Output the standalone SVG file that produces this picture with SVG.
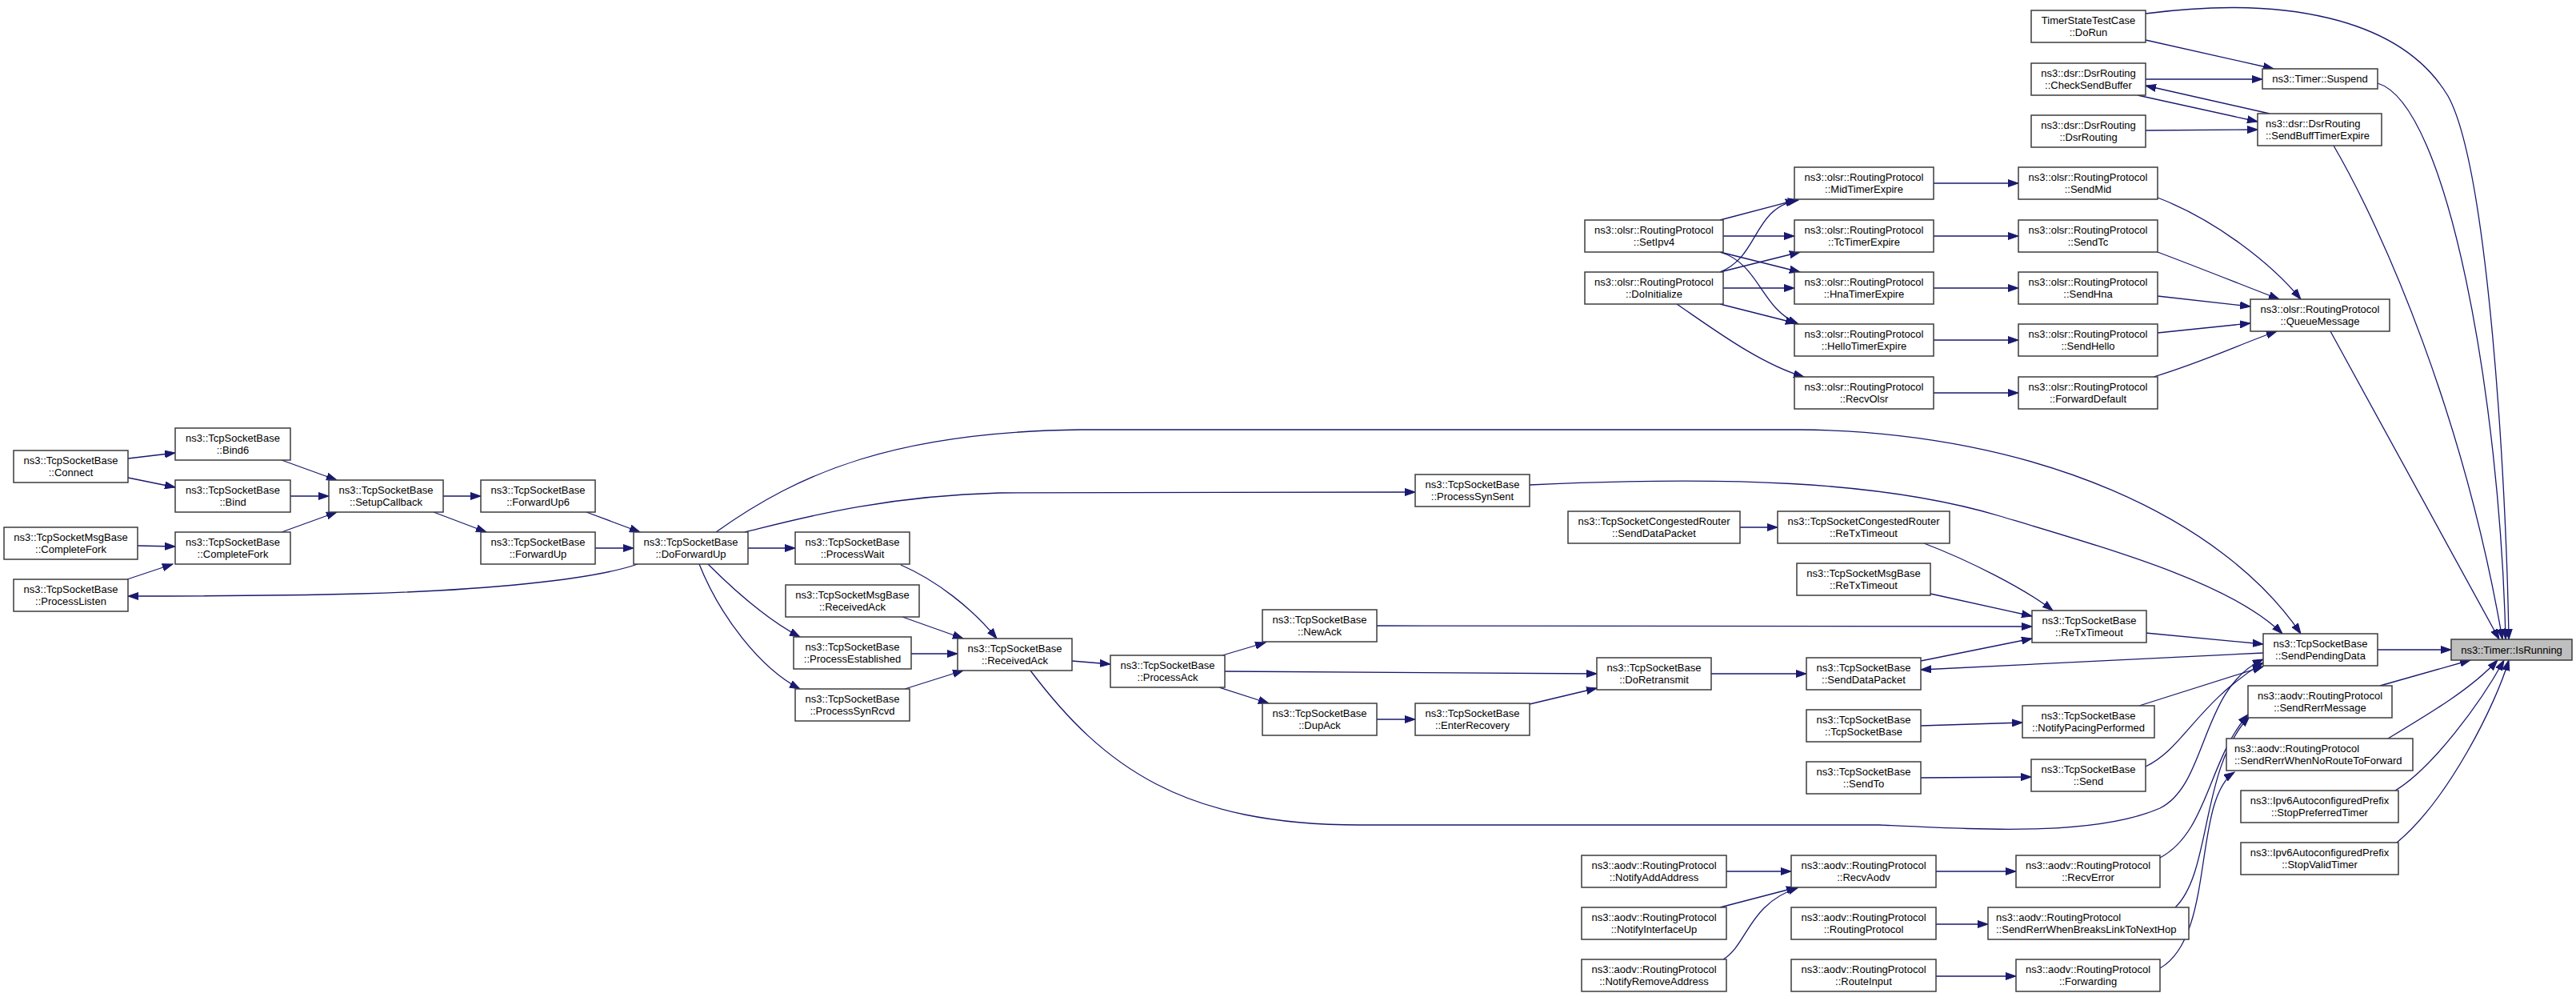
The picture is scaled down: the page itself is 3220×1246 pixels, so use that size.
<svg xmlns="http://www.w3.org/2000/svg" width="3220" height="1246" viewBox="0 0 3220 1246">
<style>
.n rect{fill:#fff;stroke:#3c3c3c;stroke-width:1.5}
.r rect{fill:#bfbfbf}
text{font-family:"Liberation Sans",Arial,sans-serif;font-size:13px;fill:#000;text-anchor:middle}
text.l{text-anchor:start}
#edges path{fill:none;stroke:#191970;stroke-width:1.3;marker-end:url(#ah)}
</style>
<defs>
<marker id="ah" markerWidth="14" markerHeight="10" refX="13" refY="5" orient="auto" markerUnits="userSpaceOnUse"><path d="M0,0.5 L13,5 L0,9.5 z" fill="#191970" stroke="#191970" stroke-width="1"/></marker>
</defs>
<rect width="3220" height="1246" fill="#fff"/>
<g id="edges">
<path d="M160,573 L219,566"/>
<path d="M160,597 L219,609"/>
<path d="M352,575 L421,600"/>
<path d="M363,620 L411,620"/>
<path d="M352,665 L421,640"/>
<path d="M172,682 L219,683"/>
<path d="M159,724 L216,705"/>
<path d="M797,705 C740,725 600,738 450,742 C330,745 230,745 160,745"/>
<path d="M554,620 L601,620"/>
<path d="M542,640 L608,665"/>
<path d="M733,640 L800,665"/>
<path d="M744,685 L792,685"/>
<path d="M935,685 L994,685"/>
<path d="M885,705 C920,740 960,775 1000,796"/>
<path d="M874,705 C900,770 950,835 1000,861"/>
<path d="M895,665 C1000,590 1120,540 1350,537 L2250,537 C2550,540 2780,650 2876,792"/>
<path d="M931,665 C1000,648 1100,620 1250,616 L1769,615"/>
<path d="M1126,706 C1170,725 1215,760 1246,798"/>
<path d="M1128,771 L1204,798"/>
<path d="M1139,817 L1197,817"/>
<path d="M1131,861 L1204,838"/>
<path d="M1340,826 L1388,830"/>
<path d="M1288,838 C1380,960 1480,1031 1700,1031 L2350,1031 C2480,1037 2620,1045 2700,1010 C2760,980 2750,860 2829,824"/>
<path d="M2682,958 C2730,935 2745,880 2829,828"/>
<path d="M2674,882 L2829,833"/>
<path d="M2401,907 L2528,903"/>
<path d="M2401,972 L2539,971"/>
<path d="M1528,819 L1582,803"/>
<path d="M1531,839 L1996,842"/>
<path d="M1524,859 L1586,879"/>
<path d="M1721,899 L1769,899"/>
<path d="M1912,880 L1996,860"/>
<path d="M2139,842 L2258,842"/>
<path d="M1721,782 L2540,783"/>
<path d="M2401,826 L2540,798"/>
<path d="M2829,816 L2401,837"/>
<path d="M2682,791 L2829,805"/>
<path d="M2175,659 L2222,659"/>
<path d="M2405,679 C2460,700 2530,735 2566,763"/>
<path d="M2413,742 L2540,770"/>
<path d="M1912,606 C2150,595 2350,600 2500,645 C2650,690 2790,730 2853,792"/>
<path d="M2971,812 L3064,812"/>
<path d="M2150,275 L2245,250"/>
<path d="M2154,295 L2243,295"/>
<path d="M2150,315 L2250,340"/>
<path d="M2150,315 C2200,330 2200,385 2248,405"/>
<path d="M2150,340 C2200,320 2190,260 2248,250"/>
<path d="M2150,340 L2250,315"/>
<path d="M2154,360 L2243,360"/>
<path d="M2150,380 L2245,404"/>
<path d="M2096,380 C2140,410 2200,455 2255,471"/>
<path d="M2417,229 L2523,229"/>
<path d="M2417,295 L2523,295"/>
<path d="M2417,360 L2523,360"/>
<path d="M2417,425 L2523,425"/>
<path d="M2417,491 L2523,491"/>
<path d="M2697,247 C2770,275 2840,330 2876,374"/>
<path d="M2697,315 C2750,335 2800,355 2849,374"/>
<path d="M2697,370 L2813,383"/>
<path d="M2697,416 L2813,404"/>
<path d="M2692,471 C2760,450 2800,430 2846,414"/>
<path d="M2913,414 L3124,799"/>
<path d="M2917,182 C2980,290 3080,520 3128,799"/>
<path d="M2972,104 C3060,130 3125,500 3132,799"/>
<path d="M2682,17 C2850,-5 3000,20 3060,120 C3110,210 3133,600 3136,799"/>
<path d="M2682,50 L2842,86"/>
<path d="M2682,99 L2828,99"/>
<path d="M2837,142 L2682,107"/>
<path d="M2672,119 L2822,152"/>
<path d="M2682,163 L2822,162"/>
<path d="M2158,1089 L2239,1089"/>
<path d="M2150,1134 L2246,1109"/>
<path d="M2154,1199 C2185,1180 2185,1130 2248,1109"/>
<path d="M2420,1089 L2520,1089"/>
<path d="M2420,1155 L2485,1155"/>
<path d="M2420,1220 L2520,1220"/>
<path d="M2700,1072 C2760,1040 2760,950 2810,893"/>
<path d="M2719,1134 C2765,1090 2750,960 2812,895"/>
<path d="M2700,1210 C2770,1170 2740,1000 2793,965"/>
<path d="M2975,857 L3088,825"/>
<path d="M2985,923 C3040,890 3090,860 3122,825"/>
<path d="M2994,988 C3040,960 3100,880 3130,825"/>
<path d="M2996,1053 C3060,1000 3120,880 3136,825"/>
</g>
<g id="n_connect" class="n"><rect x="17" y="563" width="143" height="40"/><text x="88.5" y="580">ns3::TcpSocketBase</text><text x="88.5" y="595">::Connect</text></g>
<g id="n_bind6" class="n"><rect x="219" y="535" width="144" height="40"/><text x="291" y="552">ns3::TcpSocketBase</text><text x="291" y="567">::Bind6</text></g>
<g id="n_bind" class="n"><rect x="219" y="600" width="144" height="40"/><text x="291" y="617">ns3::TcpSocketBase</text><text x="291" y="632">::Bind</text></g>
<g id="n_setupcallback" class="n"><rect x="411" y="600" width="143" height="40"/><text x="482.5" y="617">ns3::TcpSocketBase</text><text x="482.5" y="632">::SetupCallback</text></g>
<g id="n_msgcompletefork" class="n"><rect x="5" y="659" width="167" height="40"/><text x="88.5" y="676">ns3::TcpSocketMsgBase</text><text x="88.5" y="691">::CompleteFork</text></g>
<g id="n_completefork" class="n"><rect x="219" y="665" width="144" height="40"/><text x="291" y="682">ns3::TcpSocketBase</text><text x="291" y="697">::CompleteFork</text></g>
<g id="n_processlisten" class="n"><rect x="17" y="724" width="143" height="40"/><text x="88.5" y="741">ns3::TcpSocketBase</text><text x="88.5" y="756">::ProcessListen</text></g>
<g id="n_forwardup6" class="n"><rect x="601" y="600" width="143" height="40"/><text x="672.5" y="617">ns3::TcpSocketBase</text><text x="672.5" y="632">::ForwardUp6</text></g>
<g id="n_forwardup" class="n"><rect x="601" y="665" width="143" height="40"/><text x="672.5" y="682">ns3::TcpSocketBase</text><text x="672.5" y="697">::ForwardUp</text></g>
<g id="n_doforwardup" class="n"><rect x="792" y="665" width="143" height="40"/><text x="863.5" y="682">ns3::TcpSocketBase</text><text x="863.5" y="697">::DoForwardUp</text></g>
<g id="n_processwait" class="n"><rect x="994" y="665" width="143" height="40"/><text x="1065.5" y="682">ns3::TcpSocketBase</text><text x="1065.5" y="697">::ProcessWait</text></g>
<g id="n_msgreceivedack" class="n"><rect x="982" y="731" width="167" height="40"/><text x="1065.5" y="748">ns3::TcpSocketMsgBase</text><text x="1065.5" y="763">::ReceivedAck</text></g>
<g id="n_processestablished" class="n"><rect x="992" y="796" width="147" height="40"/><text x="1065.5" y="813">ns3::TcpSocketBase</text><text x="1065.5" y="828">::ProcessEstablished</text></g>
<g id="n_processsynrcvd" class="n"><rect x="994" y="861" width="143" height="40"/><text x="1065.5" y="878">ns3::TcpSocketBase</text><text x="1065.5" y="893">::ProcessSynRcvd</text></g>
<g id="n_receivedack" class="n"><rect x="1197" y="798" width="143" height="40"/><text x="1268.5" y="815">ns3::TcpSocketBase</text><text x="1268.5" y="830">::ReceivedAck</text></g>
<g id="n_processack" class="n"><rect x="1388" y="819" width="143" height="40"/><text x="1459.5" y="836">ns3::TcpSocketBase</text><text x="1459.5" y="851">::ProcessAck</text></g>
<g id="n_newack" class="n"><rect x="1578" y="762" width="143" height="40"/><text x="1649.5" y="779">ns3::TcpSocketBase</text><text x="1649.5" y="794">::NewAck</text></g>
<g id="n_dupack" class="n"><rect x="1578" y="879" width="143" height="40"/><text x="1649.5" y="896">ns3::TcpSocketBase</text><text x="1649.5" y="911">::DupAck</text></g>
<g id="n_enterrecovery" class="n"><rect x="1769" y="879" width="143" height="40"/><text x="1840.5" y="896">ns3::TcpSocketBase</text><text x="1840.5" y="911">::EnterRecovery</text></g>
<g id="n_doretransmit" class="n"><rect x="1996" y="822" width="143" height="40"/><text x="2067.5" y="839">ns3::TcpSocketBase</text><text x="2067.5" y="854">::DoRetransmit</text></g>
<g id="n_processsynsent" class="n"><rect x="1769" y="593" width="143" height="40"/><text x="1840.5" y="610">ns3::TcpSocketBase</text><text x="1840.5" y="625">::ProcessSynSent</text></g>
<g id="n_crsenddatapacket" class="n"><rect x="1960" y="639" width="215" height="40"/><text x="2067.5" y="656">ns3::TcpSocketCongestedRouter</text><text x="2067.5" y="671">::SendDataPacket</text></g>
<g id="n_crretxtimeout" class="n"><rect x="2222" y="639" width="215" height="40"/><text x="2329.5" y="656">ns3::TcpSocketCongestedRouter</text><text x="2329.5" y="671">::ReTxTimeout</text></g>
<g id="n_msgretxtimeout" class="n"><rect x="2246" y="704" width="167" height="40"/><text x="2329.5" y="721">ns3::TcpSocketMsgBase</text><text x="2329.5" y="736">::ReTxTimeout</text></g>
<g id="n_retxtimeout" class="n"><rect x="2540" y="763" width="143" height="40"/><text x="2611.5" y="780">ns3::TcpSocketBase</text><text x="2611.5" y="795">::ReTxTimeout</text></g>
<g id="n_senddatapacket" class="n"><rect x="2258" y="822" width="143" height="40"/><text x="2329.5" y="839">ns3::TcpSocketBase</text><text x="2329.5" y="854">::SendDataPacket</text></g>
<g id="n_tcpsocketbase" class="n"><rect x="2258" y="887" width="143" height="40"/><text x="2329.5" y="904">ns3::TcpSocketBase</text><text x="2329.5" y="919">::TcpSocketBase</text></g>
<g id="n_sendto" class="n"><rect x="2258" y="952" width="143" height="40"/><text x="2329.5" y="969">ns3::TcpSocketBase</text><text x="2329.5" y="984">::SendTo</text></g>
<g id="n_notifypacing" class="n"><rect x="2528" y="882" width="165" height="40"/><text x="2610.5" y="899">ns3::TcpSocketBase</text><text x="2610.5" y="914">::NotifyPacingPerformed</text></g>
<g id="n_send" class="n"><rect x="2539" y="949" width="143" height="40"/><text x="2610.5" y="966">ns3::TcpSocketBase</text><text x="2610.5" y="981">::Send</text></g>
<g id="n_sendpendingdata" class="n"><rect x="2829" y="792" width="143" height="40"/><text x="2900.5" y="809">ns3::TcpSocketBase</text><text x="2900.5" y="824">::SendPendingData</text></g>
<g id="n_isrunning" class="n r"><rect x="3064" y="799" width="151" height="26"/><text x="3139.5" y="817">ns3::Timer::IsRunning</text></g>
<g id="n_setipv4" class="n"><rect x="1981" y="275" width="173" height="40"/><text x="2067.5" y="292">ns3::olsr::RoutingProtocol</text><text x="2067.5" y="307">::SetIpv4</text></g>
<g id="n_doinitialize" class="n"><rect x="1981" y="340" width="173" height="40"/><text x="2067.5" y="357">ns3::olsr::RoutingProtocol</text><text x="2067.5" y="372">::DoInitialize</text></g>
<g id="n_midtimerexpire" class="n"><rect x="2243" y="209" width="174" height="40"/><text x="2330" y="226">ns3::olsr::RoutingProtocol</text><text x="2330" y="241">::MidTimerExpire</text></g>
<g id="n_tctimerexpire" class="n"><rect x="2243" y="275" width="174" height="40"/><text x="2330" y="292">ns3::olsr::RoutingProtocol</text><text x="2330" y="307">::TcTimerExpire</text></g>
<g id="n_hnatimerexpire" class="n"><rect x="2243" y="340" width="174" height="40"/><text x="2330" y="357">ns3::olsr::RoutingProtocol</text><text x="2330" y="372">::HnaTimerExpire</text></g>
<g id="n_hellotimerexpire" class="n"><rect x="2243" y="405" width="174" height="40"/><text x="2330" y="422">ns3::olsr::RoutingProtocol</text><text x="2330" y="437">::HelloTimerExpire</text></g>
<g id="n_recvolsr" class="n"><rect x="2243" y="471" width="174" height="40"/><text x="2330" y="488">ns3::olsr::RoutingProtocol</text><text x="2330" y="503">::RecvOlsr</text></g>
<g id="n_sendmid" class="n"><rect x="2523" y="209" width="174" height="40"/><text x="2610" y="226">ns3::olsr::RoutingProtocol</text><text x="2610" y="241">::SendMid</text></g>
<g id="n_sendtc" class="n"><rect x="2523" y="275" width="174" height="40"/><text x="2610" y="292">ns3::olsr::RoutingProtocol</text><text x="2610" y="307">::SendTc</text></g>
<g id="n_sendhna" class="n"><rect x="2523" y="340" width="174" height="40"/><text x="2610" y="357">ns3::olsr::RoutingProtocol</text><text x="2610" y="372">::SendHna</text></g>
<g id="n_sendhello" class="n"><rect x="2523" y="405" width="174" height="40"/><text x="2610" y="422">ns3::olsr::RoutingProtocol</text><text x="2610" y="437">::SendHello</text></g>
<g id="n_forwarddefault" class="n"><rect x="2523" y="471" width="174" height="40"/><text x="2610" y="488">ns3::olsr::RoutingProtocol</text><text x="2610" y="503">::ForwardDefault</text></g>
<g id="n_queuemessage" class="n"><rect x="2813" y="374" width="174" height="40"/><text x="2900" y="391">ns3::olsr::RoutingProtocol</text><text x="2900" y="406">::QueueMessage</text></g>
<g id="n_dorun" class="n"><rect x="2539" y="13" width="143" height="40"/><text x="2610.5" y="30">TimerStateTestCase</text><text x="2610.5" y="45">::DoRun</text></g>
<g id="n_checksendbuffer" class="n"><rect x="2539" y="79" width="143" height="40"/><text x="2610.5" y="96">ns3::dsr::DsrRouting</text><text x="2610.5" y="111">::CheckSendBuffer</text></g>
<g id="n_dsrrouting" class="n"><rect x="2539" y="144" width="143" height="40"/><text x="2610.5" y="161">ns3::dsr::DsrRouting</text><text x="2610.5" y="176">::DsrRouting</text></g>
<g id="n_suspend" class="n"><rect x="2828" y="86" width="144" height="25"/><text x="2900" y="103">ns3::Timer::Suspend</text></g>
<g id="n_sendbufftimerexpire" class="n"><rect x="2822" y="142" width="155" height="40"/><text class="l" x="2832" y="159">ns3::dsr::DsrRouting</text><text class="l" x="2832" y="174">::SendBuffTimerExpire</text></g>
<g id="n_notifyaddaddress" class="n"><rect x="1977" y="1069" width="181" height="40"/><text x="2067.5" y="1086">ns3::aodv::RoutingProtocol</text><text x="2067.5" y="1101">::NotifyAddAddress</text></g>
<g id="n_notifyinterfaceup" class="n"><rect x="1977" y="1134" width="181" height="40"/><text x="2067.5" y="1151">ns3::aodv::RoutingProtocol</text><text x="2067.5" y="1166">::NotifyInterfaceUp</text></g>
<g id="n_notifyremoveaddress" class="n"><rect x="1977" y="1199" width="181" height="40"/><text x="2067.5" y="1216">ns3::aodv::RoutingProtocol</text><text x="2067.5" y="1231">::NotifyRemoveAddress</text></g>
<g id="n_recvaodv" class="n"><rect x="2239" y="1069" width="181" height="40"/><text x="2329.5" y="1086">ns3::aodv::RoutingProtocol</text><text x="2329.5" y="1101">::RecvAodv</text></g>
<g id="n_routingprotocol" class="n"><rect x="2239" y="1134" width="181" height="40"/><text x="2329.5" y="1151">ns3::aodv::RoutingProtocol</text><text x="2329.5" y="1166">::RoutingProtocol</text></g>
<g id="n_routeinput" class="n"><rect x="2239" y="1199" width="181" height="40"/><text x="2329.5" y="1216">ns3::aodv::RoutingProtocol</text><text x="2329.5" y="1231">::RouteInput</text></g>
<g id="n_recverror" class="n"><rect x="2520" y="1069" width="180" height="40"/><text x="2610" y="1086">ns3::aodv::RoutingProtocol</text><text x="2610" y="1101">::RecvError</text></g>
<g id="n_breakslink" class="n"><rect x="2485" y="1134" width="251" height="40"/><text class="l" x="2495" y="1151">ns3::aodv::RoutingProtocol</text><text class="l" x="2495" y="1166">::SendRerrWhenBreaksLinkToNextHop</text></g>
<g id="n_forwarding" class="n"><rect x="2520" y="1199" width="180" height="40"/><text x="2610" y="1216">ns3::aodv::RoutingProtocol</text><text x="2610" y="1231">::Forwarding</text></g>
<g id="n_sendrerrmessage" class="n"><rect x="2810" y="857" width="180" height="40"/><text x="2900" y="874">ns3::aodv::RoutingProtocol</text><text x="2900" y="889">::SendRerrMessage</text></g>
<g id="n_norouteforward" class="n"><rect x="2783" y="923" width="233" height="40"/><text class="l" x="2793" y="940">ns3::aodv::RoutingProtocol</text><text class="l" x="2793" y="955">::SendRerrWhenNoRouteToForward</text></g>
<g id="n_stoppreferred" class="n"><rect x="2801" y="988" width="197" height="40"/><text x="2899.5" y="1005">ns3::Ipv6AutoconfiguredPrefix</text><text x="2899.5" y="1020">::StopPreferredTimer</text></g>
<g id="n_stopvalid" class="n"><rect x="2801" y="1053" width="197" height="40"/><text x="2899.5" y="1070">ns3::Ipv6AutoconfiguredPrefix</text><text x="2899.5" y="1085">::StopValidTimer</text></g>
</svg>
